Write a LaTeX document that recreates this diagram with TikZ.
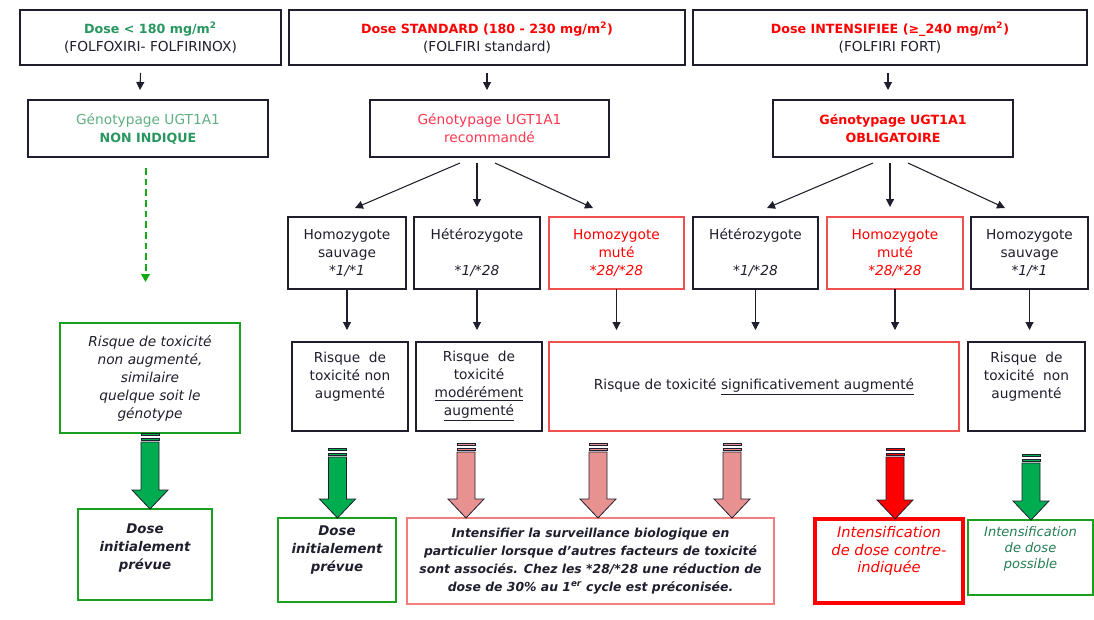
\documentclass[tikz,border=0pt]{standalone}
\usepackage{fontspec}
\setmainfont{DejaVu Sans}
\usetikzlibrary{arrows.meta,calc}

\definecolor{ink}{RGB}{30,30,45}
\definecolor{txtgreen}{RGB}{40,150,95}
\definecolor{palegreen}{RGB}{95,175,130}
\definecolor{boxgreen}{RGB}{25,160,30}
\definecolor{arrgreen}{RGB}{0,172,80}
\definecolor{dashgreen}{RGB}{20,170,20}
\definecolor{txtred}{RGB}{255,0,0}
\definecolor{palered}{RGB}{255,55,80}
\definecolor{linered}{RGB}{240,80,80}
\definecolor{pinkline}{RGB}{245,125,125}
\definecolor{pinkfill}{RGB}{232,145,145}
\definecolor{darkteal}{RGB}{35,125,85}

\newcommand{\fsz}[1]{\fontsize{#1}{13.5}\selectfont}
\newcommand{\hb}{\fontsize{9.5}{13.5}\selectfont\bfseries}

% block arrow: from node, to node, x shift, top shift, fill
\newcommand{\blockarrow}[5]{%
  \coordinate (ba) at ($(#1.south)+(#3,#4)$);
  \coordinate (bb) at (ba |- #2.north);
  \filldraw[fill=#5, draw=ink, line width=0.6pt] ($(ba)+(-9,0)$) rectangle ($(ba)+(9,2.5)$);
  \filldraw[fill=#5, draw=ink, line width=0.6pt] ($(ba)+(-9,5)$) rectangle ($(ba)+(9,7)$);
  \filldraw[fill=#5, draw=ink, line width=0.6pt] ($(ba)+(-9,9)$) -- ($(bb)+(-9,-19)$) -- ($(bb)+(-18,-19)$) -- (bb) -- ($(bb)+(18,-19)$) -- ($(bb)+(9,-19)$) -- ($(ba)+(9,9)$) -- cycle;
}

\tikzset{
  box/.style 2 args={draw=ink, line width=1pt, inner sep=0pt, outer sep=0pt,
    align=center, text=ink, font=\fsz{10.3},
    minimum width=#1*0.75pt, minimum height=#2*0.75pt},
  redbox/.style={draw=linered, text=txtred},
  greenbox/.style={draw=boxgreen, line width=1.5pt},
  arr/.style={-{Triangle[length=6pt,width=6pt]}, line width=0.8pt, draw=ink},
  arrdown/.style={arr, shorten >=9pt},
  dasharr/.style={-{Triangle[length=6pt,width=6.5pt]}, draw=dashgreen, line width=1.5pt, dash pattern=on 5pt off 3pt}
}

\begin{document}
\begin{tikzpicture}[x=0.75pt,y=0.75pt,yscale=-1]
\useasboundingbox (0,0) rectangle (1094,619);

% Text Node
\node[box={261}{55}] (topA) at (150.5,37.5) {{\hb\color{txtgreen}Dose < 180 mg/m\textsuperscript{2}}\\(FOLFOXIRI- FOLFIRINOX)};
% Text Node
\node[box={396}{55}] (topB) at (487,37.5) {{\hb\color{txtred}Dose STANDARD (180 - 230 mg/m\textsuperscript{2})}\\(FOLFIRI standard)};
% Text Node
\node[box={394}{55}] (topC) at (890,37.5) {{\hb\color{txtred}Dose INTENSIFIEE (≥\_240 mg/m\textsuperscript{2})}\\(FOLFIRI FORT)};

% Text Node
\node[box={240}{57}] (genA) at (148,128.5) {{\color{palegreen}Génotypage UGT1A1}\\{\hb\color{txtgreen}NON INDIQUE}};
% Text Node
\node[box={239}{57}, text=palered] (genB) at (489.5,128.5) {Génotypage UGT1A1\\recommandé};
% Text Node
\node[box={240}{57}, text=txtred, font=\hb] (genC) at (893,128.5) {Génotypage UGT1A1\\OBLIGATOIRE};

% Text Node
\node[box={118}{72}] (h1) at (347,253) {Homozygote\\sauvage\\\textit{*1/*1}};
% Text Node
\node[box={126}{72}] (h2) at (477,253) {Hétérozygote\\\strut\\\textit{*1/*28}};
% Text Node
\node[box={135}{72}, redbox] (h3) at (616.5,253) {Homozygote\\muté\\\textit{*28/*28}};
% Text Node
\node[box={125}{72}] (h4) at (755.5,253) {Hétérozygote\\\strut\\\textit{*1/*28}};
% Text Node
\node[box={136}{72}, redbox] (h5) at (895,253) {Homozygote\\muté\\\textit{*28/*28}};
% Text Node
\node[box={117}{72}] (h6) at (1029.5,253) {Homozygote\\sauvage\\\textit{*1/*1}};

% Text Node
\node[box={116}{89}] (r1) at (350,386.5) {Risque\ \ de\\toxicité non\\augmenté\\\strut};
% Text Node
\node[box={126}{89}] (r2) at (479,386.5) {Risque\ \ de\\toxicité\\\underline{modérément}\\\underline{augmenté}};
% Text Node
\node[box={410}{89}, draw=linered] (r3) at (754,386.5) {Risque de toxicité \underline{significativement augmenté}};
% Text Node
\node[box={117}{89}] (r4) at (1026.5,386.5) {Risque\ \ de\\toxicité\ \ non\\augmenté\\\strut};

% Text Node
\node[box={180}{110}, greenbox, font=\fsz{10.3}\itshape] (l1) at (150,378) {Risque de toxicité\\non augmenté,\\similaire\\quelque soit le\\génotype};

% Text Node
\node[box={134}{91}, greenbox, font=\fsz{10}\bfseries\itshape] (d1) at (145,554.5) {Dose\\initialement\\prévue\\[-6pt]\strut};
% Text Node
\node[box={118}{84}, greenbox, font=\fsz{10}\bfseries\itshape] (d2) at (337,560) {Dose\\initialement\\prévue\\\strut};
% Text Node
\node[box={367}{86}, draw=pinkline, line width=0.8pt, font=\fsz{9.3}\bfseries\itshape] (d3) at (590.5,561) {Intensifier la surveillance biologique en\\particulier lorsque d'autres facteurs de toxicité\\sont associés. Chez les *28/*28 une réduction de\\dose de 30\% au 1\textsuperscript{er} cycle est préconisée.};
% Text Node
\node[box={148}{84}, draw=txtred, line width=3.5pt, text=txtred, font=\fontsize{11}{13.1}\selectfont\itshape] (d4) at (889,561) {Intensification\\de dose contre-\\indiquée\\\strut};
% Text Node
\node[box={125}{75}, greenbox, line width=1.2pt, text=darkteal, font=\fontsize{9.8}{12}\selectfont\itshape] (d5) at (1030.5,557.5) {Intensification\\de dose\\possible\\\strut};

% Connection
\draw[arr] ($(topA.south)+(-10,8)$) -- ($(genA.north)+(-8,-10)$);
% Connection
\draw[arr] ($(topB.south)+(0,8)$) -- ($(genB.north)+(-2.5,-10)$);
% Connection
\draw[arr] ($(topC.south)+(-2,8)$) -- ($(genC.north)+(-5,-10)$);

% Connection
\coordinate (nonInd) at (145.5,282);
\draw[dasharr] ($(genA.south)+(-2.5,11)$) -- (nonInd);

% Connection
\draw[arr] ($(genB.south)+(-29.5,6)$) -- ($(h1.north)+(8,-9)$);
% Connection
\draw[arr] ($(genB.south)+(-12.5,6)$) -- ($(h2.north)+(0,-10)$);
% Connection
\draw[arr] ($(genB.south)+(5.5,6)$) -- ($(h3.north)+(-23.5,-9)$);
% Connection
\draw[arr] ($(genC.south)+(-20,6)$) -- ($(h4.north)+(11.5,-9)$);
% Connection
\draw[arr] ($(genC.south)+(-3,6)$) -- ($(h5.north)+(-5,-10)$);
% Connection
\draw[arr] ($(genC.south)+(15,6)$) -- ($(h6.north)+(-24.5,-9)$);

% Connection
\draw[arrdown] (h1.south) -- (h1.south |- r1.north);
% Connection
\draw[arrdown] (h2.south) -- (h2.south |- r2.north);
% Connection
\draw[arrdown] (h3.south) -- (h3.south |- r3.north);
% Connection
\draw[arrdown] (h4.south) -- (h4.south |- r3.north);
% Connection
\draw[arrdown] (h5.south) -- (h5.south |- r3.north);
% Connection
\draw[arrdown] (h6.south) -- (h6.south |- r4.north);

% Block arrows
\blockarrow{l1}{d1}{0}{0}{arrgreen}
\blockarrow{r1}{d2}{-12.5}{17}{arrgreen}
\blockarrow{r2}{d3}{-13}{12}{pinkfill}
\blockarrow{r3}{d3}{-156}{12}{pinkfill}
\blockarrow{r3}{d3}{-22}{12}{pinkfill}
\blockarrow{r3}{d4}{141}{17}{txtred}
\blockarrow{r4}{d5}{4.5}{23}{arrgreen}

\end{tikzpicture}
\end{document}
